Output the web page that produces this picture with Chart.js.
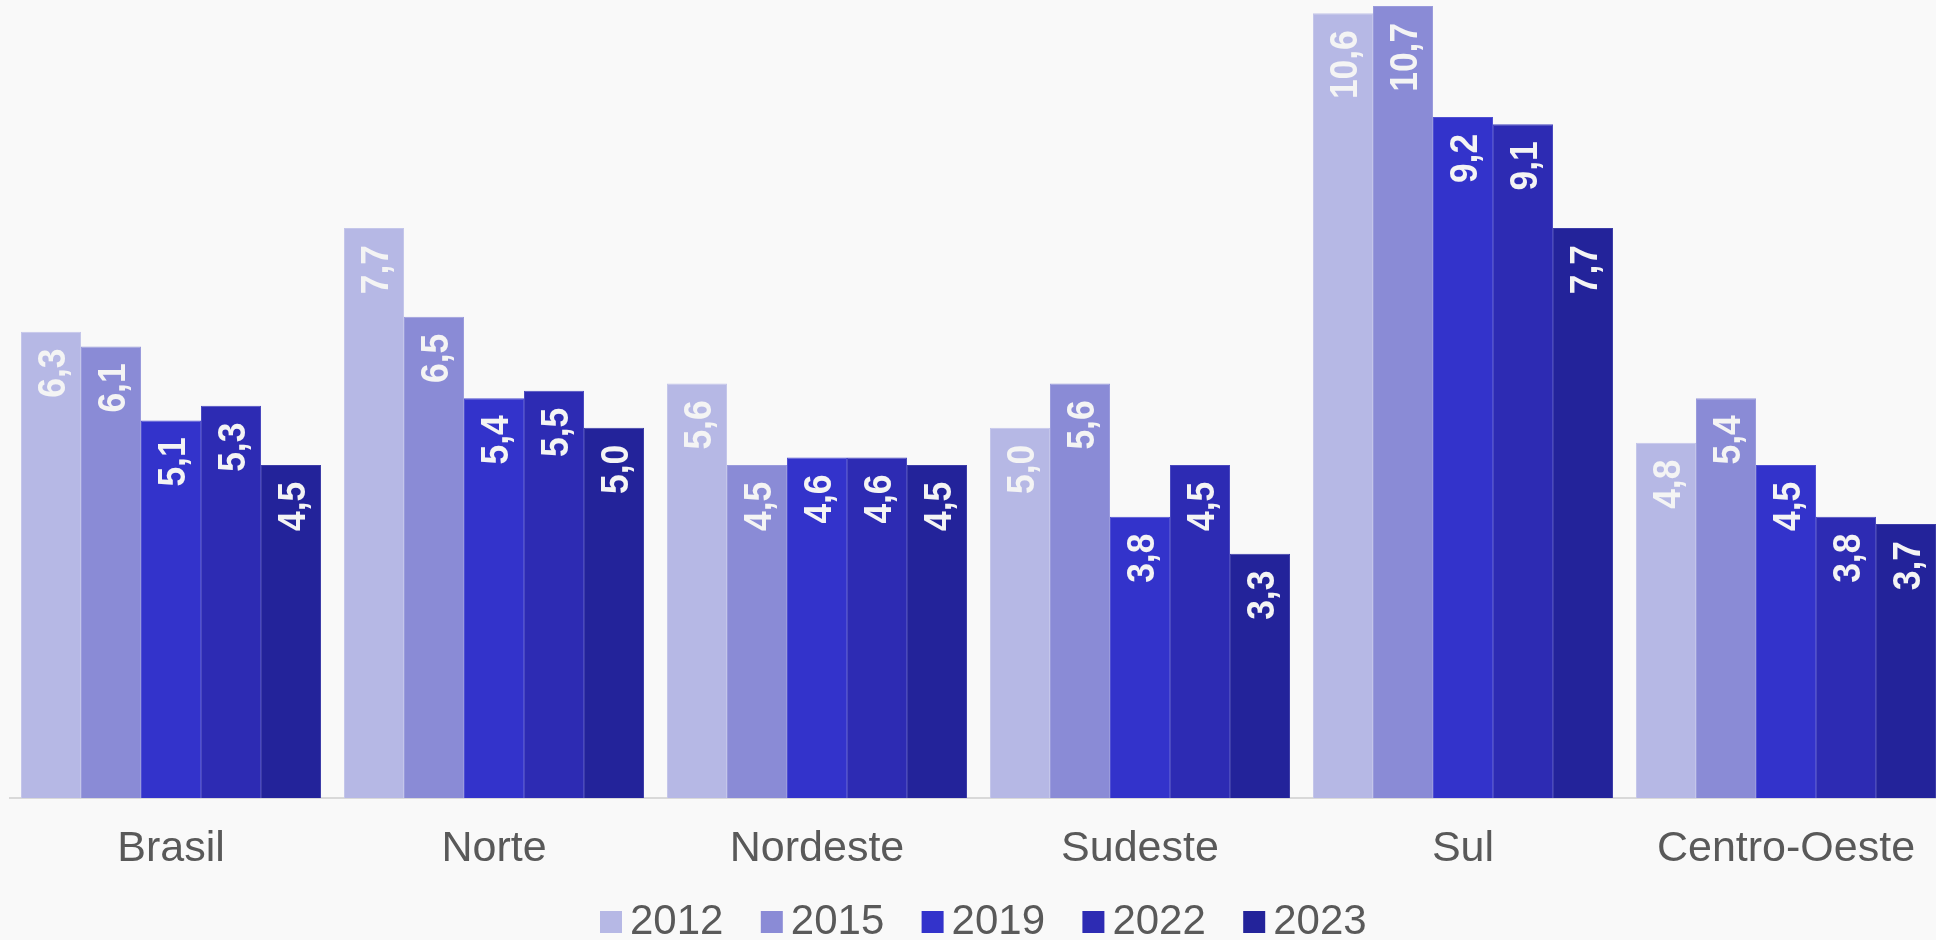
<!DOCTYPE html>
<html>
<head>
<meta charset="utf-8">
<script src="https://cdn.jsdelivr.net/npm/chart.js@4"></script>
<style>
  html, body { margin: 0; padding: 0; background: #f9f9f9; }
  #wrap { width: 1936px; height: 940px; overflow: hidden; }
  #inner { width: 1948px; height: 940px; }
</style>
</head>
<body>
<div id="wrap"><div id="inner"><canvas id="chart" width="1948" height="940"></canvas></div></div>
<script>
const regioes = ["Brasil", "Norte", "Nordeste", "Sudeste", "Sul", "Centro-Oeste"];
const anos = ["2012", "2015", "2019", "2022", "2023"];
const v2012 = [6.3, 7.7, 5.6, 5.0, 10.6, 4.8];
const v2015 = [6.1, 6.5, 4.5, 5.6, 10.7, 5.4];
const v2019 = [5.1, 5.4, 4.6, 3.8, 9.2, 4.5];
const v2022 = [5.3, 5.5, 4.6, 4.5, 9.1, 3.8];
const v2023 = [4.5, 5.0, 4.5, 3.3, 7.7, 3.7];

const cores = ["#b6b8e5", "#8a8bd6", "#3333cb", "#2d2bb3", "#23239a"];
const bordas = ["#c4c6ea", "#9a9bdc", "#5050d2", "#4a49bf", "#3d3da8"];
const series = [v2012, v2015, v2019, v2022, v2023];

const FONT = "'Liberation Sans', Arial, sans-serif";

// rotated value labels inside the top of each bar
const valueLabels = {
  id: "valueLabels",
  afterDatasetsDraw(chart) {
    const ctx = chart.ctx;
    chart.data.datasets.forEach((ds, i) => {
      const meta = chart.getDatasetMeta(i);
      meta.data.forEach((bar, j) => {
        const txt = ds.data[j].toFixed(1).replace(".", ",");
        ctx.save();
        ctx.translate(bar.x, bar.y + 17);
        ctx.rotate(-Math.PI / 2);
        ctx.scale(0.93, 1);
        ctx.font = "bold 38px " + FONT;
        ctx.fillStyle = "#f4f4f4";
        ctx.textAlign = "right";
        ctx.textBaseline = "alphabetic";
        ctx.fillText(txt, 0, 13.6);
        ctx.restore();
      });
    });
  }
};

// legend at the bottom
const legendaBaixo = {
  id: "legendaBaixo",
  afterDraw(chart) {
    const ctx = chart.ctx;
    chart.data.datasets.forEach((ds, i) => {
      const x = 600 + i * 160.8;
      ctx.save();
      ctx.fillStyle = ds.backgroundColor;
      ctx.fillRect(x, 911, 22, 22);
      ctx.font = "42px " + FONT;
      ctx.fillStyle = "#595959";
      ctx.textAlign = "left";
      ctx.textBaseline = "alphabetic";
      ctx.fillText(ds.label, x + 30, 934);
      ctx.restore();
    });
  }
};

new Chart(document.getElementById("chart"), {
  type: "bar",
  data: {
    labels: regioes,
    datasets: anos.map((ano, i) => ({
      label: ano,
      data: series[i],
      backgroundColor: cores[i],
      borderColor: bordas[i],
      borderWidth: 1,
      borderSkipped: "bottom",
      categoryPercentage: 0.9288,
      barPercentage: 1.0,
    })),
  },
  options: {
    responsive: false,
    devicePixelRatio: 1,
    animation: false,
    layout: { padding: { left: 9.5, right: 0.5, top: 0, bottom: 0 } },
    plugins: {
      legend: { display: false },
      tooltip: { enabled: false },
    },
    scales: {
      y: {
        display: false,
        min: 0,
        max: 10.78,
      },
      x: {
        grid: { display: false, drawTicks: false },
        border: { display: true, color: "#d9d9d9", width: 2 },
        ticks: {
          color: "#595959",
          font: { family: FONT, size: 43 },
          padding: 25,
          maxRotation: 0,
          autoSkip: false,
        },
        afterFit(scale) {
          scale.height = 142;
        },
      },
    },
  },
  plugins: [valueLabels, legendaBaixo],
});
</script>
</body>
</html>
